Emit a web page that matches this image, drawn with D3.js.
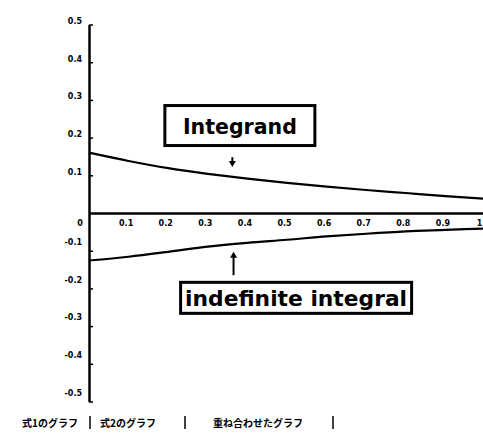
<!DOCTYPE html>
<html>
<head>
<meta charset="utf-8">
<script src="https://cdn.jsdelivr.net/npm/d3@7"></script>
<style>
body{margin:0;background:#fff;}
svg{display:block;}
.tick text{font-family:"DejaVu Sans",sans-serif;font-weight:bold;font-size:8px;fill:#000;}
</style>
</head>
<body>
<svg id="chart" width="483" height="434"></svg>
<script>
// data
var xValues = [0, 0.1, 0.2, 0.3, 0.4, 0.5, 0.6, 0.7, 0.8, 0.9, 1.0];
var integrand = [0.160, 0.138, 0.119, 0.104, 0.091, 0.080, 0.070, 0.061, 0.053, 0.045, 0.038];
var indefiniteIntegral = [-0.126, -0.116, -0.103, -0.089, -0.079, -0.071, -0.062, -0.055, -0.049, -0.045, -0.041];
var xTicks = [0.1, 0.2, 0.3, 0.4, 0.5, 0.6, 0.7, 0.8, 0.9, 1];
var yTicks = [-0.5, -0.4, -0.3, -0.2, -0.1, 0.1, 0.2, 0.3, 0.4, 0.5];
var menuLabels = ["式1のグラフ", "式2のグラフ", "重ね合わせたグラフ"];

var svg = d3.select("#chart");

var x = d3.scaleLinear().domain([0, 1]).range([89, 485]);
var y = d3.scaleLinear().domain([-0.5, 0.5]).range([401.5, 24.5]);

//y axis
var yAxis = svg.append("g")
	.attr("transform", "translate(" + x(0) + ",0)")
	.call(d3.axisLeft(y).tickValues(yTicks).tickSizeInner(-4).tickSizeOuter(0).tickPadding(7)
		.tickFormat(function(d){ return d3.format(".1f")(d).replace("−", "-"); }));
yAxis.select(".domain").attr("stroke-width", 2.5);
yAxis.selectAll(".tick line").attr("stroke-width", 1.5);
yAxis.selectAll(".tick text")
	.attr("dy", function(d){ return d < 0 ? "-0.8em" : "-0.15em"; });

//x axis
var xAxis = svg.append("g")
	.attr("transform", "translate(0," + y(0) + ")")
	.call(d3.axisBottom(x).tickValues(xTicks).tickSize(0).tickPadding(7)
		.tickFormat(function(d){ return d === 1 ? "1" : d3.format(".1f")(d); }));
xAxis.select(".domain").attr("stroke-width", 2.5);
xAxis.selectAll(".tick text").attr("dx", function(d){ return d === 1 ? "-6" : "-3"; });

//zero label
svg.append("text")
	.attr("x", x(0) - 9).attr("y", y(0) + 13)
	.attr("text-anchor", "middle")
	.style("font-family", "DejaVu Sans").style("font-weight", "bold").style("font-size", "8px")
	.text("0");

//curves
var line = d3.line()
	.x(function(d){ return x(d[0]); })
	.y(function(d){ return y(d[1]); })
	.curve(d3.curveMonotoneX);

[integrand, indefiniteIntegral].forEach(function(series){
	svg.append("path")
		.datum(xValues.map(function(v, i){ return [v, series[i]]; }))
		.attr("d", line)
		.attr("fill", "none")
		.attr("stroke", "#000")
		.attr("stroke-width", 2.2);
});

//annotation boxes
var notes = [
	{text: "Integrand", cx: 0.381, cy: 0.232, w: 150, h: 40, tl: 114, arrow: [0.362, 0.148, 0.122]},
	{text: "indefinite integral", cx: 0.523, cy: -0.225, w: 231, h: 31, tl: 222, arrow: [0.365, -0.165, -0.103]}
];

notes.forEach(function(n){
	var cx = x(n.cx), cy = y(n.cy);
	svg.append("rect")
		.attr("x", cx - n.w / 2).attr("y", cy - n.h / 2)
		.attr("width", n.w).attr("height", n.h)
		.attr("fill", "#fff").attr("stroke", "#000").attr("stroke-width", 3);
	svg.append("text")
		.attr("x", cx).attr("y", cy + 8)
		.attr("text-anchor", "middle")
		.attr("textLength", n.tl).attr("lengthAdjust", "spacingAndGlyphs")
		.style("font-family", "DejaVu Sans").style("font-weight", "bold").style("font-size", "22px")
		.text(n.text);

	//arrow: from y1 to y2, head at y2
	var ax = x(n.arrow[0]), y1 = y(n.arrow[1]), y2 = y(n.arrow[2]);
	var dir = y2 > y1 ? 1 : -1;
	svg.append("line")
		.attr("x1", ax).attr("x2", ax)
		.attr("y1", y1).attr("y2", y2 - dir * 4)
		.attr("stroke", "#000").attr("stroke-width", 2);
	svg.append("path")
		.attr("d", "M" + (ax - 3.5) + "," + (y2 - dir * 6) + "L" + (ax + 3.5) + "," + (y2 - dir * 6) + "L" + ax + "," + y2 + "Z")
		.attr("fill", "#000");
});

//menu at bottom
var menuX = [22, 100, 213];
var barX = [90, 185, 333];
var menu = svg.append("g");
menu.selectAll("text")
	.data(menuLabels)
	.enter()
	.append("text")
	.attr("x", function(d, i){ return menuX[i]; })
	.attr("y", 427)
	.attr("fill", "#000")
	.style("font-family", "Noto Sans CJK JP").style("font-weight", "bold").style("font-size", "10px")
	.text(function(d){ return d; });
menu.selectAll("line")
	.data(barX)
	.enter()
	.append("line")
	.attr("x1", function(d){ return d; }).attr("x2", function(d){ return d; })
	.attr("y1", 416).attr("y2", 429)
	.attr("stroke", "#000").attr("stroke-width", 1.5);
</script>
</body>
</html>
